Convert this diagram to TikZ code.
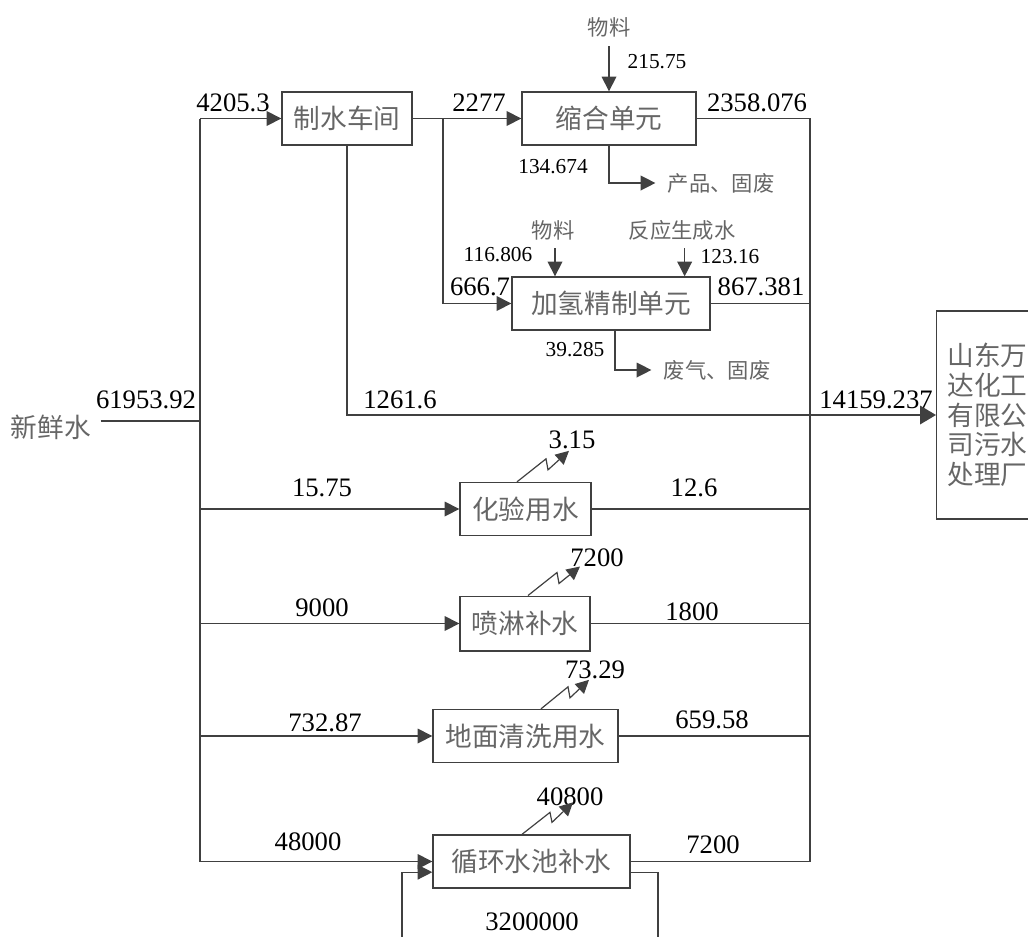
\documentclass[tikz,border=0pt]{standalone}
\usepackage{fontspec}
\setmainfont{Liberation Serif}
\newfontfamily\cjk{Noto Sans CJK SC}
\usetikzlibrary{arrows.meta,calc}
\definecolor{linec}{HTML}{404040}
\definecolor{cjkc}{HTML}{666666}
\tikzset{
 ln/.style={draw=linec,line width=1pt},
 arr/.style={ln,-{Triangle[length=11pt,width=11pt]}},
 bigarr/.style={ln,-{Triangle[length=12pt,width=14pt]}},
 zz/.style={draw=linec,line width=0.9pt,-{Triangle[length=10pt,width=10pt]}},
 proc/.style={draw=linec,line width=1pt,minimum height=39.75pt,inner sep=0pt,text=cjkc,font=\cjk\fontsize{20}{24}\selectfont},
 big/.style={inner sep=0pt,font=\fontsize{20}{24}\selectfont},
 sml/.style={inner sep=0pt,font=\fontsize{16}{19}\selectfont},
 cjs/.style={inner sep=0pt,text=cjkc,font=\cjk\fontsize{16}{19}\selectfont},
 cjb/.style={inner sep=0pt,text=cjkc,font=\cjk\fontsize{20}{24}\selectfont},
}
\begin{document}
\begin{tikzpicture}[x=0.75pt,y=-0.75pt]
\useasboundingbox (0,0) rectangle (1028,936);
% process boxes
\node[proc,minimum width=97.5pt] (zs) at (347,118.5) {制水车间};
\node[proc,minimum width=130.5pt] (sh) at (609,118.5) {缩合单元};
\node[proc,minimum width=148.5pt] (jq) at (611,303.5) {加氢精制单元};
\node[proc,minimum width=98.25pt] (hy) at (525.5,509) {化验用水};
\node[proc,minimum width=97.5pt,minimum height=41pt] (pl) at (525,623.5) {喷淋补水};
\node[proc,minimum width=138.75pt] (dm) at (525.5,736) {地面清洗用水};
\node[proc,minimum width=147.75pt] (xh) at (531.5,861.5) {循环水池补水};
\node[draw=linec,line width=1pt,anchor=west,align=left,minimum height=156pt,
      inner xsep=8pt,inner ysep=0pt,text=cjkc,font=\cjk\fontsize{20}{22.3}\selectfont]
      (sd) at (936,415) {山东万\\达化工\\有限公\\司污水\\处理厂};
% text labels
\node[cjb] (fw) at (51,427) {新鲜水};
\node[cjs] (wl1) at (609,27) {物料};
\node[cjs] (cp) at (721,183) {产品、固废};
\node[cjs] (wl2) at (553,230) {物料};
\node[cjs] (fy) at (682,230) {反应生成水};
\node[cjs] (fq) at (717,370) {废气、固废};
% numbers
\node[big] (n1) at (233,103) {4205.3};
\node[big] (n2) at (479,103) {2277};
\node[big] (n3) at (757,103) {2358.076};
\node[sml] (n4) at (657,62) {215.75};
\node[sml] (n5) at (553,167) {134.674};
\node[sml] (n6) at (498,255) {116.806};
\node[sml] (n7) at (730,257) {123.16};
\node[big] (n8) at (480,287) {666.7};
\node[big] (n9) at (761,287) {867.381};
\node[sml] (n10) at (575,350) {39.285};
\node[big] (n11) at (146,400) {61953.92};
\node[big] (n12) at (400,400) {1261.6};
\node[big] (n13) at (876,400) {14159.237};
\node[big] (n14) at (572,440) {3.15};
\node[big] (n15) at (322,488) {15.75};
\node[big] (n16) at (694,488) {12.6};
\node[big] (n17) at (597,558) {7200};
\node[big] (n18) at (322,608) {9000};
\node[big] (n19) at (692,612) {1800};
\node[big] (n20) at (595,670) {73.29};
\node[big] (n21) at (325,723) {732.87};
\node[big] (n22) at (712,720) {659.58};
\node[big] (n23) at (570,797) {40800};
\node[big] (n24) at (308,842) {48000};
\node[big] (n25) at (713,845) {7200};
\node[big] (n26) at (532,922) {3200000};
% junction coordinates
\coordinate (L1) at (200,118.5);
\coordinate (L2) at (200,861.5);
\coordinate (J) at (200,421);
\coordinate (R2) at (810,861.5);
\coordinate (B1) at (443,118.5);
\coordinate (lpR) at (658,945);
\coordinate (lpL) at (402,945);
% fresh water and collectors
\draw[ln] ([xshift=7pt]fw.east |- J) -- (J);
\draw[ln] (L1) -- (L2);
\draw[arr] (L1) -- (zs.west);
\draw[arr] (zs.east) -- (sh.west);
\draw[arr] (B1) |- (jq.west);
\draw[ln] (sh.east) -| (R2);
\draw[ln] (jq.east) -- (jq.east -| R2);
\draw[bigarr] (zs.south) |- (sd.west);
% material inputs / outputs
\draw[arr,shorten <=7pt] (wl1.south) -- (wl1.south |- sh.north);
\draw[arr,shorten >=9pt] (sh.south) |- (cp.west);
\draw[arr,shorten <=6pt] ([xshift=1.5pt]wl2.south) -- ([xshift=1.5pt]wl2.south |- jq.north);
\draw[arr,shorten <=6pt] ([xshift=2pt]fy.south) -- ([xshift=2pt]fy.south |- jq.north);
\draw[arr,shorten >=9pt] ([xshift=3pt]jq.south) |- (fq.west);
% branches
\draw[arr] (L1 |- hy.west) -- (hy.west);
\draw[ln] (hy.east) -- (R2 |- hy.east);
\draw[arr] (L1 |- pl.west) -- (pl.west);
\draw[ln] (pl.east) -- (R2 |- pl.east);
\draw[arr] (L1 |- dm.west) -- (dm.west);
\draw[ln] (dm.east) -- (R2 |- dm.east);
\draw[arr] (L2) -- (xh.west);
\draw[ln] (xh.east) -- (R2);
% recirculation loop
\draw[ln] ([yshift=-8pt]xh.east) -| (lpR);
\draw[arr] (lpL) |- ([yshift=-8pt]xh.west);
% evaporation (lightning) arrows
\draw[zz] ($(hy.north)+(-8.5,0)$) -- ++(29,-23) -- ++(2,11) -- ++(21,-19);
\draw[zz] ($(pl.north)+(3,0)$) -- ++(29,-23) -- ++(2,11) -- ++(21,-17);
\draw[zz] ($(dm.north)+(15.5,0)$) -- ++(27,-22) -- ++(2,11) -- ++(19,-18);
\draw[zz] ($(xh.north)+(-9.5,0)$) -- ++(28,-22) -- ++(2,10) -- ++(21,-20);
\end{tikzpicture}
\end{document}
